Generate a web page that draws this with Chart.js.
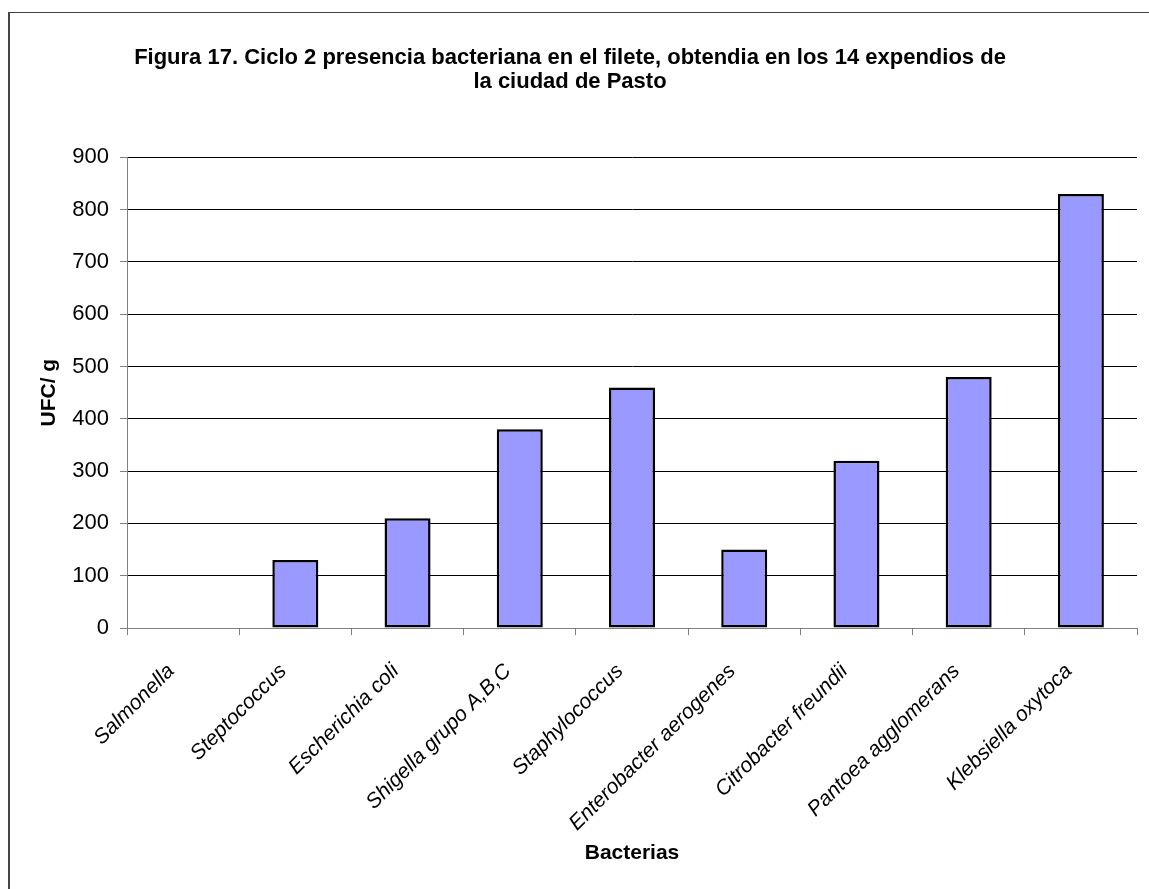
<!DOCTYPE html>
<html>
<head>
<meta charset="utf-8">
<script src="https://cdn.jsdelivr.net/npm/chart.js@4"></script>
<style>
  html, body { margin: 0; padding: 0; background: #fff; overflow: hidden; }
  #frame {
    position: absolute; left: 8px; top: 12px; width: 1200px; height: 1000px;
    border-left: 2px solid #444; border-top: 1px solid #444;
  }
  #chart { position: absolute; left: 0; top: 0; }
</style>
</head>
<body>
<div id="frame"></div>
<canvas id="chart" width="1149" height="889"></canvas>
<script>
// Bacterias encontradas (ciclo 2) y su recuento en UFC/g
const bacterias = [
  "Salmonella", "Steptococcus", "Escherichia coli", "Shigella grupo A,B,C",
  "Staphylococcus", "Enterobacter aerogenes", "Citrobacter freundii",
  "Pantoea agglomerans", "Klebsiella oxytoca"
];
const ufc = [0, 130, 210, 380, 460, 150, 320, 480, 830];
const yTicks = [0, 100, 200, 300, 400, 500, 600, 700, 800, 900];

const tituloLineas = [
  "Figura 17. Ciclo 2 presencia bacteriana en el filete, obtendia en los 14 expendios de",
  "la ciudad de Pasto"
];

const fuente = "'Liberation Sans', Arial, sans-serif";

const ctx = document.getElementById("chart").getContext("2d");

new Chart(ctx, {
  type: "bar",
  data: {
    labels: bacterias,
    datasets: [{
      label: "UFC/ g",
      data: ufc,
      backgroundColor: "#9999ff",
      borderColor: "#000",
      borderWidth: 2.5,
      borderSkipped: false,
      barPercentage: 0.41,
      categoryPercentage: 1
    }]
  },
  options: {
    responsive: false,
    animation: false,
    layout: { padding: { left: 3, right: 12, top: 0, bottom: 23 } },
    plugins: {
      legend: { display: false },
      tooltip: { enabled: false },
      title: {
        display: true,
        text: tituloLineas,
        color: "#000",
        font: { family: fuente, size: 22, weight: "bold", lineHeight: 1.1 },
        padding: { top: 46, bottom: 63 }
      }
    },
    scales: {
      x: {
        offset: true,
        grid: {
          offset: true,
          drawOnChartArea: false,
          color: "#808080",
          tickLength: 7
        },
        border: { color: "#808080", width: 1 },
        ticks: {
          color: "#000",
          font: { family: fuente, size: 21, style: "italic" },
          minRotation: 45,
          maxRotation: 45,
          padding: 24,
          labelOffset: -12,
          autoSkip: false
        },
        title: {
          display: true,
          text: "Bacterias",
          color: "#000",
          font: { family: fuente, size: 21, weight: "bold" },
          padding: { top: 0, bottom: 0 }
        },
        afterFit: s => { s.height = 238; }
      },
      y: {
        min: 0,
        max: 900,
        afterBuildTicks: s => { s.ticks = yTicks.map(v => ({ value: v })); },
        grid: {
          color: "#000",
          tickColor: "#808080",
          tickLength: 7,
          lineWidth: 1
        },
        border: { color: "#808080", width: 1 },
        ticks: {
          color: "#000",
          font: { family: fuente, size: 22 },
          padding: 11
        },
        title: {
          display: true,
          text: "UFC/ g",
          color: "#000",
          font: { family: fuente, size: 21, weight: "bold" },
          padding: { top: 34, bottom: 0 }
        },
        afterFit: s => { s.width = 124; }
      }
    }
  }
});
</script>
</body>
</html>
